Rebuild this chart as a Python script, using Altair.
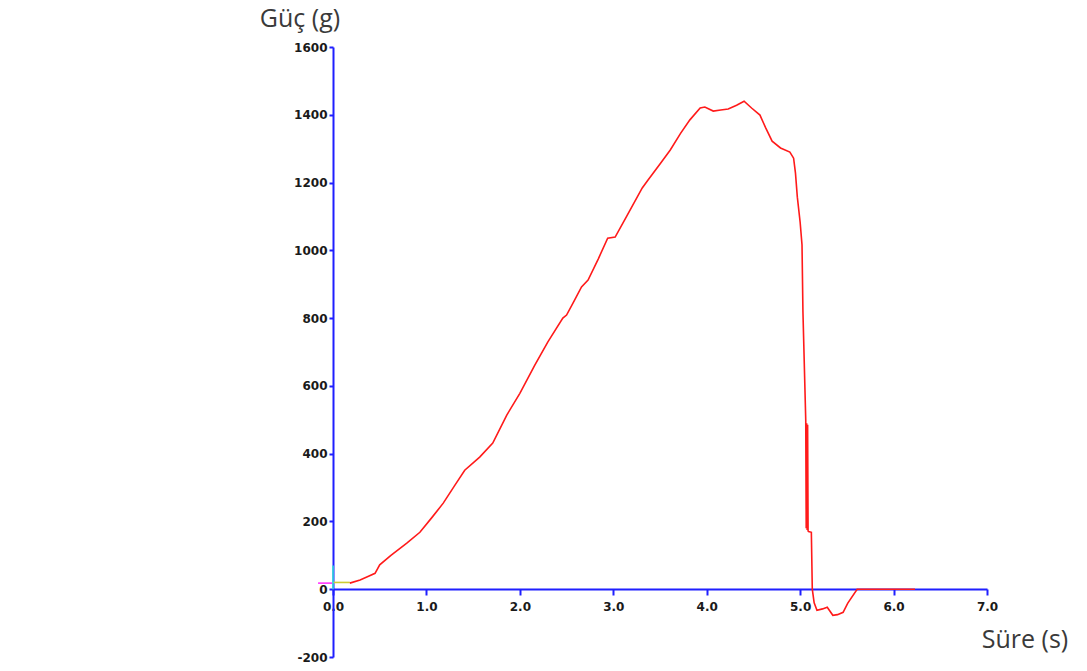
import altair as alt
import pandas as pd

# Main force trace (red)
time_s = [0.18, 0.29, 0.38, 0.45, 0.50, 0.62, 0.79, 0.93, 1.06, 1.18, 1.30, 1.41,
          1.57, 1.71, 1.86, 2.00, 2.16, 2.30, 2.46, 2.50, 2.58, 2.66, 2.73, 2.84,
          2.94, 3.02, 3.15, 3.31, 3.37, 3.50, 3.61, 3.72, 3.82, 3.93, 3.98, 4.07,
          4.15, 4.23, 4.32, 4.40, 4.48, 4.57, 4.63, 4.70, 4.79, 4.89, 4.93, 4.95,
          4.97, 5.00, 5.02, 5.03, 5.06, 5.065, 5.07, 5.075, 5.08, 5.085, 5.09,
          5.12, 5.13, 5.15, 5.18, 5.24, 5.29, 5.35, 5.40, 5.46, 5.51, 5.61, 6.23]
force_g = [18, 27, 38, 47, 72, 100, 136, 168, 212, 254, 305, 351,
           390, 431, 514, 578, 661, 730, 800, 809, 850, 892, 912, 975,
           1036, 1039, 1104, 1184, 1207, 1255, 1296, 1345, 1385, 1420, 1423, 1411,
           1414, 1417, 1428, 1440, 1420, 1399, 1362, 1322, 1302, 1290, 1272, 1228,
           1157, 1083, 1016, 818, 499, 180, 490, 175, 485, 172, 170,
           168, 0, -40, -62, -58, -53, -77, -75, -68, -41, 0, 0]

# Small start-up traces near the origin
magenta_t = [-0.16, 0.0]
magenta_g = [18, 18]
yellow_t = [0.0, 0.18]
yellow_g = [20, 20]
cyan_t = [0.0, 0.0]
cyan_g = [0, 70]

x_ticks = [0, 1, 2, 3, 4, 5, 6, 7]
y_ticks = [-200, 0, 200, 400, 600, 800, 1000, 1200, 1400, 1600]

rows = []
for s, ts, gs in [("magenta", magenta_t, magenta_g), ("yellow", yellow_t, yellow_g),
                  ("cyan", cyan_t, cyan_g), ("red", time_s, force_g)]:
    for i, (t, g) in enumerate(zip(ts, gs)):
        rows.append({"series": s, "t": t, "g": g, "i": i})
df = pd.DataFrame(rows)

AXIS_BLUE = "#1f1fff"

x_enc = alt.X("t:Q", scale=alt.Scale(domain=[0, 7], nice=False, zero=False),
              axis=alt.Axis(values=x_ticks, format=".1f", title=None, grid=False,
                            offset=-68, domainColor=AXIS_BLUE, domainWidth=2,
                            tickColor=AXIS_BLUE, tickWidth=2, tickSize=6,
                            labelFlush=False,
                            labelFont="DejaVu Sans", labelFontSize=12,
                            labelFontWeight="bold",
                            labelColor="#1a1a1a", labelPadding=6))
y_enc = alt.Y("g:Q", scale=alt.Scale(domain=[-200, 1600], nice=False),
              axis=alt.Axis(values=y_ticks, title=None, grid=False,
                            labelExpr="'' + datum.value",
                            domainColor=AXIS_BLUE, domainWidth=2,
                            tickColor=AXIS_BLUE, tickWidth=2, tickSize=4,
                            labelFlush=False,
                            labelFont="DejaVu Sans", labelFontSize=12,
                            labelFontWeight="bold",
                            labelColor="#1a1a1a", labelPadding=2))

lines = alt.Chart(df).mark_line(strokeWidth=1.6, clip=False).encode(
    x=x_enc,
    y=y_enc,
    detail="series:N",
    order="i:Q",
    color=alt.Color("series:N",
                    scale=alt.Scale(domain=["magenta", "yellow", "cyan", "red"],
                                    range=["#ff33ff", "#cccc33", "#33dddd", "#ff1a1a"]),
                    legend=None),
)

ytitle = alt.Chart(pd.DataFrame({"txt": ["Güç (g)"]})).mark_text(
    font="Open Sans", fontSize=25, color="#3a3a3a", align="center", baseline="middle"
).encode(text="txt:N", x=alt.value(-33), y=alt.value(-28))

xtitle = alt.Chart(pd.DataFrame({"txt": ["Süre (s)"]})).mark_text(
    font="Open Sans", fontSize=25, color="#3a3a3a", align="center", baseline="middle"
).encode(text="txt:N", x=alt.value(692), y=alt.value(593))

chart = alt.layer(lines, ytitle, xtitle).properties(
    width=654, height=610,
    autosize=alt.AutoSizeParams(type="none"),
    padding={"left": 333, "top": 47, "right": 100, "bottom": 14},
    background="white",
).configure_view(stroke=None)

chart.save("out.html", embed_options={"renderer": "svg", "actions": False})
